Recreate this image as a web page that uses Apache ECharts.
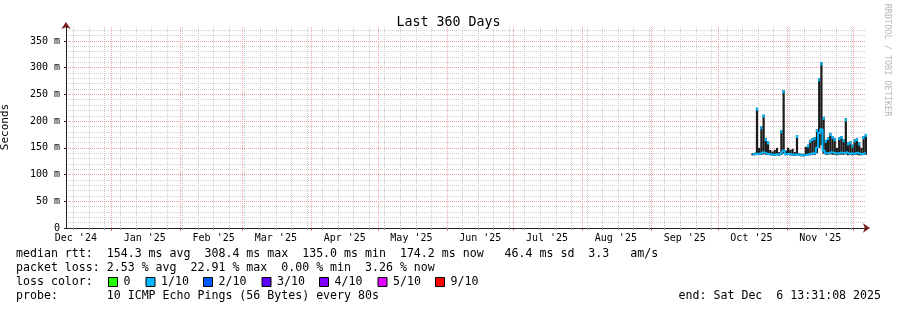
<!DOCTYPE html>
<html><head><meta charset="utf-8">
<script src="https://cdn.jsdelivr.net/npm/echarts@6/dist/echarts.min.js"></script>
<style>html,body{margin:0;padding:0;background:#fff}#c{width:897px;height:310px}</style>
</head><body><div id="c"></div>
<script>
// ---- data ----
const days = ['2025-10-16','2025-10-17','2025-10-18','2025-10-19','2025-10-20','2025-10-21','2025-10-22','2025-10-23','2025-10-24','2025-10-25',
 '2025-10-26','2025-10-27','2025-10-28','2025-10-29','2025-10-30','2025-10-31','2025-11-01','2025-11-02','2025-11-03','2025-11-04',
 '2025-11-05','2025-11-06','2025-11-07','2025-11-08','2025-11-09','2025-11-10','2025-11-11','2025-11-12','2025-11-13','2025-11-14',
 '2025-11-15','2025-11-16','2025-11-17','2025-11-18','2025-11-19','2025-11-20','2025-11-21','2025-11-22','2025-11-23','2025-11-24',
 '2025-11-25','2025-11-26','2025-11-27','2025-11-28','2025-11-29','2025-11-30','2025-12-01','2025-12-02','2025-12-03','2025-12-04',
 '2025-12-05','2025-12-06'];
// median rtt (ms)
const rttMedian = [138,138,139,139,140,142,140,139,138,137, 137,138,137,140,145,138,139,138,137,137,
 138,137,136,136,137,138,139,140,140,150, 178,185,145,140,140,142,141,140,139,141,
 141,140,142,139,140,139,140,141,139,138, 140,140];
// smoke top (ms)
const rttMax = [140,141,225,150,190,212,168,162,146,143, 146,150,142,183,258,145,150,146,148,142,
 174,140,139,139,152,156,165,168,170,185, 280,310,208,165,170,178,172,168,150,170,
 172,166,205,160,162,156,166,168,160,150, 172,176];
// smoke bottom (ms)
const rttMin = [136,136,137,137,137,138,137,137,136,135, 135,136,135,137,139,136,137,136,135,135,
 136,135,134,134,135,136,136,137,137,140, 150,155,139,137,137,138,137,137,136,137,
 137,137,138,136,137,136,137,137,136,136, 137,137];

const monthLabels = ["Dec '24","Jan '25","Feb '25","Mar '25","Apr '25","May '25","Jun '25","Jul '25","Aug '25","Sep '25","Oct '25","Nov '25"];
const monthLabelDates = ['2024-12-16','2025-01-16','2025-02-16','2025-03-16','2025-04-16','2025-05-16','2025-06-16','2025-07-16','2025-08-16','2025-09-16','2025-10-16','2025-11-16'];
const monthStarts = ['2025-01-01','2025-02-01','2025-03-01','2025-04-01','2025-05-01','2025-06-01','2025-07-01','2025-08-01','2025-09-01','2025-10-01','2025-11-01','2025-12-01'];
const yTicks = [0,50,100,150,200,250,300,350];
const yMinor = [10,20,30,40,60,70,80,90,110,120,130,140,160,170,180,190,210,220,230,240,260,270,280,290,310,320,330,340,360,370];
const firstWeek = '2024-12-15';
const startTime = Date.UTC(2024,11,11,13,31,8);
const endTime = Date.UTC(2025,11,6,13,31,8);
const yMax = 378;

const lossColors = [['0','#26ff00'],['1/10','#00b8ff'],['2/10','#0059ff'],['3/10','#5e00ff'],['4/10','#7e00ff'],['5/10','#dd00ff'],['9/10','#ff0000']];

// ---- build ----
const DAY = 86400000;
const ts = d => Date.parse(d + 'T00:00:00Z');
const dayTs = days.map(d => ts(d) + DAY / 2);
const labelTs = monthLabelDates.map(ts);
const monthTs = monthStarts.map(ts);
const weekTs = [];
for (let t = ts(firstWeek); t < endTime; t += 7 * DAY) weekTs.push(t);

const MONO = '"DejaVu Sans Mono", monospace';
const minorC = '#cfcfcf';
const majorC = '#f29a9a';
const majorVC = '#f5a3a3';

const minorMarks = [];
weekTs.forEach(t => minorMarks.push({xAxis: t}));
yMinor.forEach(v => minorMarks.push({yAxis: v}));
const majorHMarks = yTicks.filter(v => v > 0).map(v => ({yAxis: v}));
const majorVMarks = monthTs.map(t => ({xAxis: t}));

const chart = echarts.init(document.getElementById('c'), null, {renderer: 'canvas'});
const textStyleBase = {font: '11.6px ' + MONO, fill: '#000', textVerticalAlign: 'middle'};
const graphics = [
  {type: 'text', x: 16, y: 254, style: Object.assign({text: 'median rtt:  154.3 ms avg  308.4 ms max  135.0 ms min  174.2 ms now   46.4 ms sd  3.3   am/s'}, textStyleBase)},
  {type: 'text', x: 16, y: 268, style: Object.assign({text: 'packet loss: 2.53 % avg  22.91 % max  0.00 % min  3.26 % now'}, textStyleBase)},
  {type: 'text', x: 16, y: 282, style: Object.assign({text: 'loss color:'}, textStyleBase)},
  {type: 'text', x: 16, y: 296, style: Object.assign({text: 'probe:       10 ICMP Echo Pings (56 Bytes) every 80s'}, textStyleBase)},
  {type: 'text', x: 881, y: 296, style: Object.assign({text: 'end: Sat Dec  6 13:31:08 2025', textAlign: 'right'}, textStyleBase)},
  {type: 'text', x: 887, y: 60, rotation: -Math.PI/2, style: {text: 'RRDTOOL / TOBI OETIKER', font: '8.5px ' + MONO, fill: '#b8b8b8', textAlign: 'center', textVerticalAlign: 'middle'}}
];
const legendX = [108.5, 146, 203.5, 262, 319.5, 378, 435.5];
lossColors.forEach((lc, i) => {
  graphics.push({type: 'rect', shape: {x: legendX[i], y: 277.5, width: 9, height: 9}, style: {fill: lc[1], stroke: '#000', lineWidth: 1}});
  graphics.push({type: 'text', x: legendX[i] + 15, y: 282, style: Object.assign({text: lc[0]}, textStyleBase)});
});

const smokeData = dayTs.map((t, i) => [t, rttMin[i], rttMax[i], rttMedian[i]]);

function renderSmoke(params, api) {
  const t = api.value(0);
  const lo = api.coord([t - DAY / 2, api.value(1)]);
  const hi = api.coord([t + DAY / 2, api.value(2)]);
  const x = lo[0], w = hi[0] - lo[0];
  const children = [{type: 'rect', shape: {x: x, y: hi[1], width: w, height: lo[1] - hi[1]}, style: {fill: '#1c1c1c'}}];
  if (api.value(2) - api.value(3) > 15) {
    children.push({type: 'rect', shape: {x: x, y: hi[1], width: w, height: 3}, style: {fill: '#00b8ff'}});
  }
  return {type: 'group', children: children};
}

function gridSeries(name, color, marks) {
  return {type: 'line', name: name, data: [], z: 1, silent: true,
    markLine: {z: 1, silent: true, symbol: ['none','none'], label: {show: false}, animation: false,
      lineStyle: {color: color, type: [1,1], width: 1}, emphasis: {disabled: true}, data: marks}};
}

chart.setOption({
  animation: false,
  backgroundColor: '#ffffff',
  title: {text: 'Last 360 Days', left: 'center', top: 11, textStyle: {fontFamily: MONO, fontSize: 13.3, fontWeight: 'normal', color: '#000'}},
  grid: {left: 66, right: 31, top: 26, bottom: 82, containLabel: false, outerBoundsMode: 'none'},
  xAxis: [
    {type: 'value', min: startTime, max: endTime, z: 2, position: 'bottom',
     axisLine: {show: true, lineStyle: {color: '#222', width: 1}},
     axisTick: {show: true, customValues: weekTs, length: 2, lineStyle: {color: '#999'}},
     axisLabel: {customValues: labelTs, margin: 5, fontFamily: MONO, fontSize: 10, color: '#000',
       formatter: v => { const i = labelTs.indexOf(v); return i >= 0 ? monthLabels[i] : ''; }},
     splitLine: {show: false}, minorSplitLine: {show: false}},
    {type: 'value', min: startTime, max: endTime, z: 1, position: 'bottom', offset: 0,
     axisLine: {show: true, symbol: ['none','arrow'], symbolSize: [7,7], symbolOffset: [0,4], lineStyle: {color: '#7f1f1f', width: 1}},
     axisTick: {show: true, customValues: monthTs, length: 3, lineStyle: {color: '#ee7777'}},
     axisLabel: {show: false}, splitLine: {show: false}, minorSplitLine: {show: false}}
  ],
  yAxis: [
    {type: 'value', min: 0, max: yMax, z: 2, position: 'left',
     name: 'Seconds', nameLocation: 'middle', nameGap: 55, nameRotate: 90,
     nameTextStyle: {fontFamily: MONO, fontSize: 11, color: '#000'},
     axisLine: {show: true, lineStyle: {color: '#222', width: 1}},
     axisTick: {show: true, customValues: yTicks, length: 2, lineStyle: {color: '#222'}},
     axisLabel: {customValues: yTicks, margin: 6, fontFamily: MONO, fontSize: 10, color: '#000',
       formatter: v => v === 0 ? '0' : v + ' m'},
     splitLine: {show: false}},
    {type: 'value', min: 0, max: yMax, z: 1, position: 'left', offset: 0,
     axisLine: {show: true, symbol: ['none','arrow'], symbolSize: [7,7], symbolOffset: [0,4], lineStyle: {color: '#7f1f1f', width: 1}},
     axisTick: {show: false}, axisLabel: {show: false}, splitLine: {show: false}}
  ],
  graphic: graphics,
  series: [
    gridSeries('minorGrid', minorC, minorMarks),
    gridSeries('majorGridH', majorC, majorHMarks),
    gridSeries('majorGridV', majorVC, majorVMarks),
    {type: 'custom', name: 'smoke', z: 3, silent: true, renderItem: renderSmoke,
     encode: {x: 0, y: [1, 2]}, data: smokeData},
    {type: 'line', name: 'median', step: 'middle', symbol: 'none', z: 4,
     lineStyle: {color: '#00b8ff', width: 2}, data: dayTs.map((t, i) => [t, rttMedian[i]])}
  ]
});
</script>
</body></html>
